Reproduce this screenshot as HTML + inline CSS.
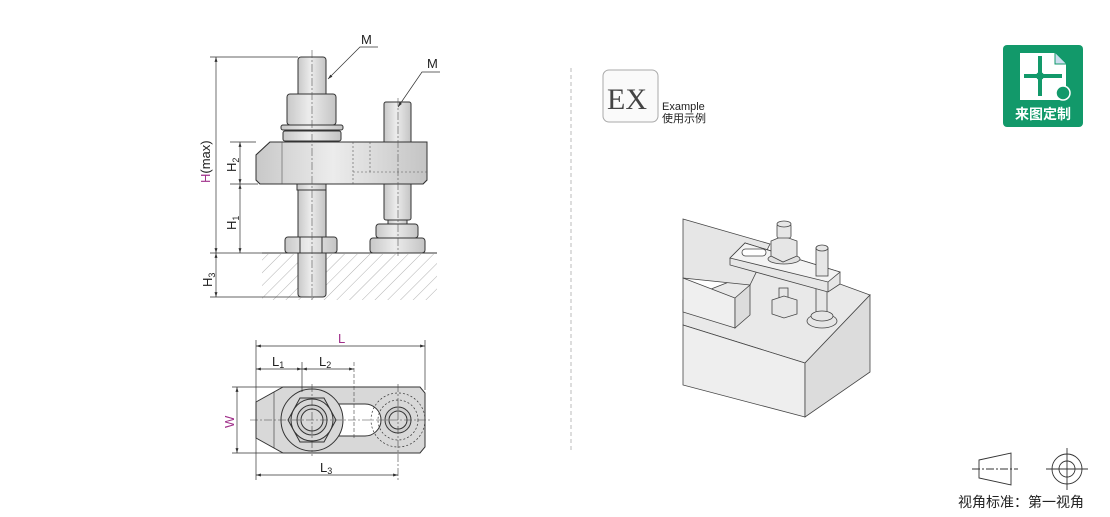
<!DOCTYPE html>
<html><head><meta charset="utf-8"><style>
body{margin:0;background:#fff;width:1110px;height:512px;overflow:hidden;font-family:"Liberation Sans","Noto Sans CJK SC",sans-serif}
</style></head><body>
<svg width="1110" height="512" viewBox="0 0 1110 512" xmlns="http://www.w3.org/2000/svg" font-family="Liberation Sans, Noto Sans CJK SC, sans-serif">
<defs>
<linearGradient id="g" x1="0" x2="1"><stop offset="0" stop-color="#c8c8c8"/><stop offset=".45" stop-color="#ececec"/><stop offset="1" stop-color="#c4c4c4"/></linearGradient>
<pattern id="h" width="9" height="9" patternUnits="userSpaceOnUse" patternTransform="rotate(45)"><line x1="0" y1="0" x2="0" y2="9" stroke="#555" stroke-width=".7"/></pattern>
<marker id="a" viewBox="0 0 10 10" refX="10" refY="5" markerWidth="7" markerHeight="7" orient="auto-start-reverse"><path d="M0,2 L10,5 L0,8z" fill="#333"/></marker>
</defs>
<g stroke="#333" stroke-width="1" fill="url(#g)">
<rect x="262" y="254" width="175" height="46" fill="url(#h)" stroke="none"/>
<rect x="262" y="254" width="175" height="46" fill="#fff" opacity=".35" stroke="none"/>
<line x1="262" y1="253" x2="437" y2="253"/>
<rect x="298" y="57" width="28" height="240" rx="3"/>
<rect x="287" y="94" width="49" height="31" rx="3"/>
<rect x="281" y="125" width="62" height="5" rx="2"/>
<rect x="283" y="131" width="58" height="10" rx="2"/>
<path d="M270,142 H427 V180 l-4,4 H260 l-4,-4 V155z"/>
<rect x="297" y="184" width="29" height="6"/>
<rect x="285" y="237" width="52" height="16" rx="3"/>
<line x1="300" y1="237" x2="300" y2="253"/><line x1="322" y1="237" x2="322" y2="253"/>
<rect x="384" y="102" width="27" height="118" rx="2"/>
<rect x="388" y="220" width="19" height="5"/>
<rect x="376" y="224" width="42" height="14" rx="3"/>
<rect x="370" y="238" width="55" height="15" rx="3"/>
<path d="M270,142 H427 V180 l-4,4 H260 l-4,-4 V155z"/>
</g>
<g stroke="#555" stroke-width=".6" fill="none">
<line x1="282" y1="142" x2="282" y2="184"/>
<line x1="353" y1="142" x2="353" y2="184" stroke-dasharray="2 2"/>
<line x1="370" y1="142" x2="370" y2="172" stroke-dasharray="2 2"/>
<line x1="353" y1="172" x2="427" y2="172" stroke-dasharray="2 2"/>
<line x1="312" y1="50" x2="312" y2="300" stroke-dasharray="8 2 2 2"/>
<line x1="398" y1="98" x2="398" y2="256" stroke-dasharray="8 2 2 2"/>
</g>
<g stroke="#333" stroke-width=".7" fill="none">
<line x1="210" y1="57" x2="298" y2="57"/>
<line x1="216" y1="57" x2="216" y2="253" marker-start="url(#a)" marker-end="url(#a)"/>
<line x1="230" y1="142" x2="256" y2="142"/>
<line x1="230" y1="184" x2="258" y2="184"/>
<line x1="240" y1="142" x2="240" y2="184" marker-start="url(#a)" marker-end="url(#a)"/>
<line x1="240" y1="184" x2="240" y2="253" marker-start="url(#a)" marker-end="url(#a)"/>
<line x1="210" y1="253" x2="262" y2="253"/>
<line x1="210" y1="297" x2="300" y2="297"/>
<line x1="216" y1="253" x2="216" y2="297" marker-start="url(#a)" marker-end="url(#a)"/>
<polyline points="378,47 360,47 328,79" marker-end="url(#a)"/>
<polyline points="440,72 422,72 398,107" marker-end="url(#a)"/>
</g>
<g font-size="13" fill="#222">
<text x="361" y="44">M</text><text x="427" y="68">M</text>
<text transform="translate(210,183) rotate(-90)" fill="#222"><tspan fill="#a0308a">H</tspan>(max)</text>
<text transform="translate(236,172) rotate(-90)">H<tspan font-size="9" dy="3">2</tspan></text>
<text transform="translate(236,230) rotate(-90)">H<tspan font-size="9" dy="3">1</tspan></text>
<text transform="translate(212,287) rotate(-90)">H<tspan font-size="9" dy="3">3</tspan></text>
</g>
<g stroke="#333" stroke-width="1">
<path d="M283,387 H420 l5,6 V447 l-5,6 H283 L256,438 V402z" fill="#d8d8d8"/>
<line x1="274" y1="392" x2="274" y2="448" stroke-width=".6"/>
<path d="M312,404 H365 a16,16 0 0 1 0,32 H312z" fill="#fff"/>
<circle cx="312" cy="420" r="31" fill="#d8d8d8"/>
<polygon points="288,420 300,398 324,398 336,420 324,442 300,442" fill="#cfcfcf"/>
<circle cx="312" cy="420" r="21" fill="#d8d8d8"/>
<circle cx="312" cy="420" r="15" fill="#cfcfcf"/>
<circle cx="312" cy="420" r="11" fill="#d8d8d8"/>
<circle cx="398" cy="420" r="27" fill="none" stroke-dasharray="2 2" stroke-width=".7"/>
<circle cx="398" cy="420" r="20" fill="none" stroke-dasharray="2 2" stroke-width=".7"/>
<circle cx="398" cy="420" r="13" fill="#cfcfcf"/>
<circle cx="398" cy="420" r="9" fill="#d8d8d8"/>
</g>
<g stroke="#444" stroke-width=".6" fill="none">
<line x1="250" y1="420" x2="430" y2="420" stroke-dasharray="8 2 2 2"/>
<line x1="312" y1="384" x2="312" y2="456" stroke-dasharray="8 2 2 2"/>
<line x1="398" y1="384" x2="398" y2="480" stroke-dasharray="8 2 2 2"/>
<line x1="354" y1="362" x2="354" y2="440" stroke-dasharray="4 2"/>
</g>
<g stroke="#333" stroke-width=".7" fill="none">
<line x1="256" y1="340" x2="256" y2="480"/>
<line x1="425" y1="340" x2="425" y2="390"/>
<line x1="302" y1="362" x2="302" y2="392"/>
<line x1="256" y1="346" x2="425" y2="346" marker-start="url(#a)" marker-end="url(#a)"/>
<line x1="256" y1="369" x2="302" y2="369" marker-start="url(#a)" marker-end="url(#a)"/>
<line x1="302" y1="369" x2="354" y2="369" marker-start="url(#a)" marker-end="url(#a)"/>
<line x1="232" y1="387" x2="283" y2="387"/><line x1="232" y1="453" x2="283" y2="453"/>
<line x1="237" y1="387" x2="237" y2="453" marker-start="url(#a)" marker-end="url(#a)"/>
<line x1="256" y1="475" x2="398" y2="475" marker-start="url(#a)" marker-end="url(#a)"/>
</g>
<g font-size="13" fill="#222">
<text x="338" y="343" fill="#a0308a">L</text>
<text x="272" y="366">L<tspan font-size="9" dy="2">1</tspan></text>
<text x="319" y="366">L<tspan font-size="9" dy="2">2</tspan></text>
<text x="320" y="472">L<tspan font-size="9" dy="2">3</tspan></text>
<text transform="translate(234,428) rotate(-90)" fill="#a0308a">W</text>
</g>
<line x1="571" y1="68" x2="571" y2="450" stroke="#bbb" stroke-dasharray="4 3"/>
<rect x="603" y="70" width="55" height="52" rx="6" fill="#fafafa" stroke="#aaa"/>
<text x="607" y="109" font-family="Liberation Serif,serif" font-size="30" fill="#444">EX</text>
<text x="662" y="110" font-size="11" fill="#222">Example</text>
<text x="662" y="122" font-size="11" fill="#222">使用示例</text>
<!-- isometric -->
<g stroke="#444" stroke-width=".8" fill="#e6e6e6">
<polygon points="683,300 780,262 870,295 805,363 683,325" fill="#e9e9e9"/>
<polygon points="683,325 805,363 805,417 683,385" fill="#eeeeee"/>
<polygon points="805,363 870,295 870,372 805,417" fill="#dcdcdc"/>
<polygon points="683,219 770,244 750,285 683,278"/>
<polygon points="683,278 735,298 735,328 683,312" fill="#efefef"/>
<polygon points="735,298 750,285 750,315 735,328" fill="#dcdcdc"/>
<rect x="779" y="288" width="9" height="12"/>
<polygon points="772,300 784,296 797,300 797,314 784,318 772,314"/>
<rect x="816" y="285" width="11" height="30"/>
<ellipse cx="822" cy="321" rx="15" ry="7"/>
<ellipse cx="822" cy="316" rx="11" ry="5"/>
<polygon points="730,258 745,243 840,272 840,284 828,292 730,265"/>
<polygon points="730,258 828,282 840,272 745,243" fill="#f3f3f3"/>
<line x1="828" y1="282" x2="828" y2="292"/>
<rect x="742" y="249" width="24" height="7" rx="3.5" fill="#fff"/>
<ellipse cx="784" cy="259" rx="16" ry="5" fill="#e0e0e0"/>
<polygon points="771,241 771,256 783,262 797,256 797,241 783,236"/>
<rect x="777" y="224" width="14" height="14" rx="2"/>
<ellipse cx="784" cy="224" rx="7" ry="3"/>
<rect x="816" y="248" width="12" height="28"/>
<ellipse cx="822" cy="248" rx="6" ry="3"/>
</g>
<rect x="1003" y="45" width="80" height="82" rx="4" fill="#12996a"/>
<path d="M1020,53 H1055 L1066,64 V100 H1020z" fill="#fff"/>
<path d="M1055,53 V64 H1066" fill="#cde" stroke="#12996a"/>
<line x1="1040" y1="56" x2="1040" y2="96" stroke="#12996a" stroke-width="4"/>
<line x1="1024" y1="76" x2="1062" y2="76" stroke="#12996a" stroke-width="4"/>
<circle cx="1040" cy="76" r="4" fill="#12996a"/>
<circle cx="1063" cy="93" r="7" fill="#12996a" stroke="#fff" stroke-width="1.5"/>
<text x="1043" y="119" text-anchor="middle" font-size="14" font-weight="bold" fill="#fff">来图定制</text>
<g stroke="#333" stroke-width=".9" fill="none">
<polygon points="979,460 1011,453 1011,485 979,478"/>
<line x1="972" y1="469" x2="1018" y2="469" stroke-dasharray="8 2 2 2"/>
<circle cx="1067" cy="469" r="15"/><circle cx="1067" cy="469" r="8"/>
<line x1="1046" y1="469" x2="1088" y2="469"/><line x1="1067" y1="448" x2="1067" y2="490"/>
</g>
<text x="958" y="507" font-size="14" fill="#222">视角标准：第一视角</text>
</svg>
</body></html>
